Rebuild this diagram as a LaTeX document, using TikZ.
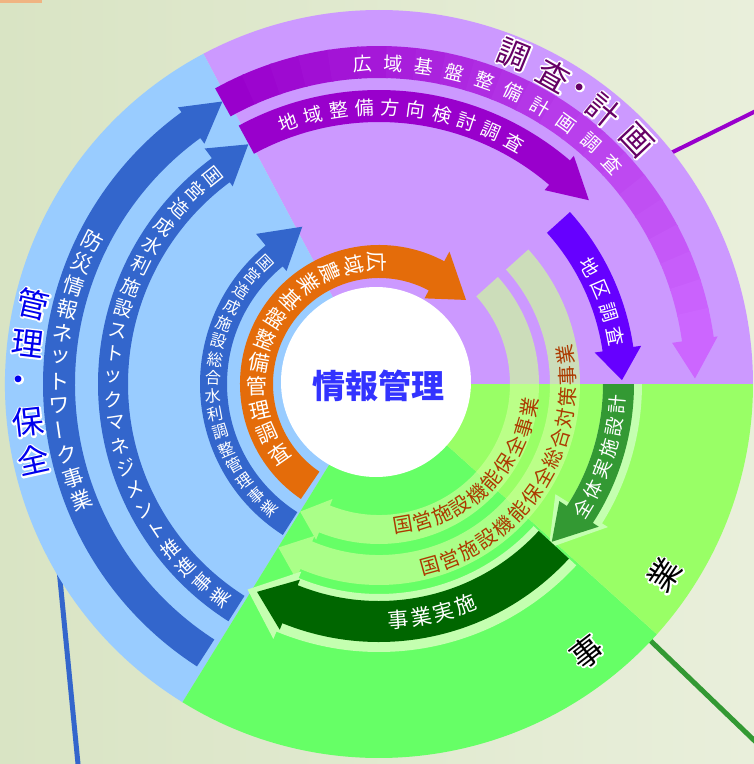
\documentclass[tikz,border=0pt]{standalone}
\usepackage{fontspec}
\newfontfamily\jp{Noto Sans CJK JP}
\usetikzlibrary{calc}

\definecolor{bgleft}{RGB}{217,228,196}
\definecolor{bgright}{RGB}{233,239,219}
\definecolor{planfill}{RGB}{204,153,255}
\definecolor{carefill}{RGB}{153,204,255}
\definecolor{workfill}{RGB}{102,255,102}
\definecolor{worklight}{RGB}{153,255,102}
\definecolor{plumdark}{RGB}{153,0,204}
\definecolor{plumlight}{RGB}{204,102,255}
\definecolor{surveyviolet}{RGB}{102,0,255}
\definecolor{careblue}{RGB}{51,102,204}
\definecolor{surveyorange}{RGB}{228,108,10}
\definecolor{midgreen}{RGB}{51,153,51}
\definecolor{deepgreen}{RGB}{0,102,0}
\definecolor{palegreen}{RGB}{204,255,153}
\definecolor{glowgreen}{RGB}{196,255,176}
\definecolor{rusttext}{RGB}{172,58,0}
\definecolor{plantext}{RGB}{102,0,102}
\definecolor{caretext}{RGB}{0,0,238}
\definecolor{hubtext}{RGB}{51,51,255}
\definecolor{cornerstrip}{RGB}{240,180,130}

% ring arrow: style, tail, head base, tip (angles), r in, r out, head in, head out, tip r
\newcommand{\ringarrow}[9]{%
  \fill[#1] (#2:#6pt) arc[start angle=#2, end angle=#3, radius=#6pt]
    -- (#3:#8pt) -- (#4:#9pt) -- (#3:#7pt)
    -- (#3:#5pt) arc[start angle=#3, end angle=#2, radius=#5pt] -- cycle;}

% one character per node along a ring
\newcommand{\arctext}[7]{%
  \foreach \ch [count=\n from 0] in {#7}{%
    \pgfmathsetmacro\ang{#4+\n*(#5)}%
    \pgfmathsetmacro\rot{\ang+(#6)}%
    \pgfmathsetmacro\rad{#3}%
    \node[#2, rotate=\rot] (#1\n) at (\ang:\rad pt) {\ch};}}

% white rim round a glyph (stroke below, fill on top)
\newcommand{\rimmed}[1]{\rlap{\special{pdf:literal direct 1 1 1 RG 1 j 3.4 w 1 Tr}#1\special{pdf:literal direct 0 Tr}}#1}

% big sector letters
\newcommand{\halochar}[7]{%
  \pgfmathsetmacro\rot{#4+(#6)}%
  \node[#2, text=#3, rotate=\rot] (#1) at (#4:#5pt) {\rimmed{#7}};}

\begin{document}
\begin{tikzpicture}[x=1pt, y=1pt,
    every node/.style={inner sep=0pt},
    bandsmall/.style={font=\jp\fontsize{16}{16}\selectfont, text=white},
    bandtext/.style={font=\jp\fontsize{19}{19}\selectfont, text=white},
    bandwide/.style={font=\jp\fontsize{21}{21}\selectfont, text=white},
    rustband/.style={font=\jp\fontsize{20}{20}\selectfont, text=rusttext},
    sectorbig/.style={font=\jp\fontsize{32}{32}\selectfont}]
\useasboundingbox (-379,-380) rectangle (375,384);
\shade[left color=bgleft, right color=bgright] (-379,-380) rectangle (375,384);
\fill[cornerstrip] (-379,384) rectangle (-337,381);

% leader lines
\coordinate (plan in) at (289,229.6);
\coordinate (plan out) at (380,274.5);
\coordinate (care in) at (-320,-185);
\coordinate (care out) at (-300.4,-386);
\coordinate (work in) at (269.2,-254.5);
\coordinate (work out) at (380,-361);
\draw[plumdark, line width=4pt] (plan in) -- (plan out);
\draw[careblue, line width=5pt] (care in) -- (care out);
\draw[midgreen, line width=5pt] (work in) -- (work out);

% sectors
\fill[planfill] (0,0) -- (0:374pt) arc[start angle=0, end angle=118, radius=374pt] -- cycle;
\fill[carefill] (0,0) -- (118:374pt) arc[start angle=118, end angle=238.3, radius=374pt] -- cycle;
\fill[workfill] (0,0) -- (238.3:374pt) arc[start angle=238.3, end angle=318, radius=374pt] -- cycle;
\fill[worklight] (0,0) -- (318:374pt) arc[start angle=318, end angle=360, radius=374pt] -- cycle;

% management arrows
\ringarrow{careblue}{237.2}{126}{119}{304}{336}{297}{342}{323}
\ringarrow{careblue}{237.6}{126.5}{118.6}{251}{281}{246}{293}{273}
\ringarrow{careblue}{237.5}{129.3}{116}{152}{179}{146}{194}{175}
\ringarrow{surveyorange}{235.8}{62}{44}{106}{139}{97}{150}{121}

% pale maintenance arrows
\ringarrow{palegreen, opacity=0.67}{42}{-112}{-121.7}{131}{160}{124}{168}{150}
\ringarrow{palegreen, opacity=0.67}{42}{-113}{-121.6}{171}{201}{165}{212}{192}

% survey arrows
\foreach \i in {0,...,21}{
  \pgfmathsetmacro\aa{119-\i*111/22}
  \pgfmathsetmacro\ab{max(119-(\i+1)*111/22-0.4,7.8)}
  \pgfmathtruncatemacro\pp{100-\i*100/21}
  \fill[plumdark!\pp!plumlight] (\aa:338pt) arc[start angle=\aa, end angle=\ab, radius=338pt]
    -- (\ab:306pt) arc[start angle=\ab, end angle=\aa, radius=306pt] -- cycle;
}
\fill[plumlight] (8:296pt) -- (1:316pt) -- (8:342pt) -- cycle;
\ringarrow{plumdark}{118.5}{49.5}{41.2}{262}{294}{255}{300}{279}
\ringarrow{surveyviolet}{42}{8.3}{0.9}{226}{257}{218}{265}{243}

% works arrows
\ringarrow{glowgreen}{-42.6}{-112.5}{-122.6}{210}{268}{203}{276}{244}
\ringarrow{glowgreen}{0}{-32}{-44}{224}{263}{208}{270}{236}
\ringarrow{midgreen}{0}{-33}{-42.4}{224}{255}{215}{262}{234}
\ringarrow{deepgreen}{-42.6}{-112}{-120.4}{217}{258}{211}{265}{241}

% hub
\fill[white] (-3,2) circle[radius=95pt];
\node[font=\jp\bfseries\fontsize{33}{33}\selectfont, text=hubtext] (hub) at (-0.5,-2) {情報管理};

% arrow texts
\arctext{wide}{bandtext}{321}{92.9}{-5.52}{-90}{広,域,基,盤,整,備,計,画,調,査}
\arctext{dir}{bandtext}{277}{109.2}{-5.39}{-90}{地,域,整,備,方,向,検,討,調,査}
\arctext{area}{bandtext}{241}{29.1}{-5.93}{-90}{地,区,調,査}
\arctext{farm}{bandwide}{122}{91}{11.27}{-180}{広,域,農,業,基,盤,整,備,管,理,調,査}
\arctext{net}{bandwide}{320}{153.5}{4.35}{-180}{防,災,情,報,ネ,ッ,ト,ワ,{\rotatebox{90}{ー}},ク,事,業}
\arctext{stock}{bandtext}{266}{128.7}{4.98}{-180}{国,営,造,成,水,利,施,設,ス,ト,ッ,ク,マ,ネ,ジ,メ,ン,ト,推,進,事,業}
\arctext{canal}{bandsmall}{166}{133.3}{6.35}{-180}{国,営,造,成,施,設,総,合,水,利,調,整,管,理,事,業}
\arctext{keep}{rustband}{143+\n*1.0}{279.8}{7.94}{90}{国,営,施,設,機,能,保,全,事,業}
\arctext{whole}{rustband}{189}{285.6}{6.4}{90}{国,営,施,設,機,能,保,全,総,合,対,策,事,業}
\arctext{design}{bandtext}{239}{-31.5}{5.3}{90}{全,体,実,施,設,計}
\arctext{build}{bandwide}{237}{274.7}{5.57}{90}{事,業,実,施}

% sector names
\halochar{plan1}{sectorbig}{plantext}{67.8}{356}{-90}{調}
\halochar{plan2}{sectorbig}{plantext}{60.5}{355}{-90}{査}
\halochar{plan3}{sectorbig}{plantext}{55.9}{354}{-90}{・}
\halochar{plan4}{sectorbig}{plantext}{50.6}{354}{-90}{計}
\halochar{plan5}{sectorbig}{plantext}{43.4}{355}{-90}{画}
\halochar{care1}{sectorbig}{caretext}{167}{355}{-180}{管}
\halochar{care2}{sectorbig}{caretext}{173.4}{354}{-180}{理}
\halochar{care3}{sectorbig}{caretext}{180}{360}{-180}{・}
\halochar{care4}{sectorbig}{caretext}{186.2}{353}{-180}{保}
\halochar{care5}{sectorbig}{caretext}{192.4}{354}{-180}{全}
\halochar{work1}{sectorbig}{black}{-52.2}{339}{90}{事}
\halochar{work2}{sectorbig}{black}{-33.8}{343}{90}{業}
\end{tikzpicture}
\end{document}
